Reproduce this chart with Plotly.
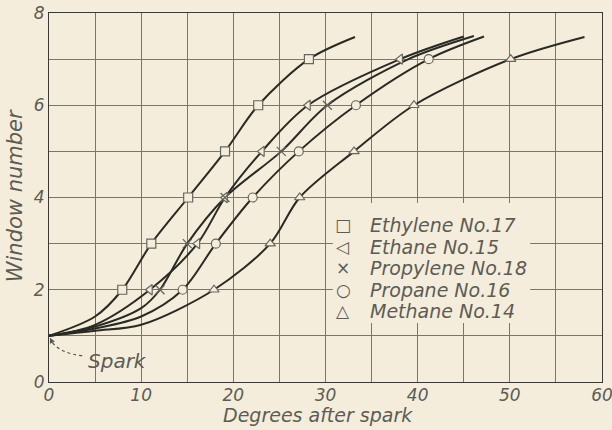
import plotly.graph_objects as go

# ---- data ----
names = ["Ethylene No.17", "Ethane No.15", "Propylene No.18", "Propane No.16", "Methane No.14"]
legend_glyphs = ["\u25a1", "\u25c1", "\u00d7", "\u25cb", "\u25b3"]
symbols = ["square", "triangle-left", "x-thin-open", "circle", "triangle-up"]

# curve points (m = 1 where a plotted observation marker sits)
ethylene_x = [0, 5, 7.95, 11.1, 15.1, 19.1, 22.7, 28.2, 33.2]
ethylene_y = [1, 1.42, 2, 3, 4, 5, 6, 7, 7.48]
ethylene_m = [0, 0, 1, 1, 1, 1, 1, 1, 0]

ethane_x = [0, 5, 10.95, 16.1, 19.1, 23.1, 28.1, 38.1, 45.0]
ethane_y = [1, 1.24, 2, 3, 4, 5, 6, 7, 7.49]
ethane_m = [0, 0, 1, 1, 1, 1, 1, 1, 0]

propylene_x = [0, 5, 10, 12.04, 15.0, 19.1, 25.2, 30.2, 39.0, 46.1]
propylene_y = [1, 1.2, 1.6, 2, 3, 4, 5, 6, 7, 7.5]
propylene_m = [0, 0, 0, 1, 1, 1, 1, 1, 0, 0]

propane_x = [0, 5, 10, 14.5, 18.1, 22.1, 27.1, 33.3, 41.2, 47.2]
propane_y = [1, 1.16, 1.42, 2, 3, 4, 5, 6, 7, 7.49]
propane_m = [0, 0, 0, 1, 1, 1, 1, 1, 1, 0]

methane_x = [0, 5, 10, 17.9, 24.0, 27.2, 33.1, 39.6, 50.1, 58.1]
methane_y = [1, 1.11, 1.24, 2, 3, 4, 5, 6, 7, 7.48]
methane_m = [0, 0, 0, 1, 1, 1, 1, 1, 1, 0]

series = [
    (ethylene_x, ethylene_y, ethylene_m),
    (ethane_x, ethane_y, ethane_m),
    (propylene_x, propylene_y, propylene_m),
    (propane_x, propane_y, propane_m),
    (methane_x, methane_y, methane_m),
]

x_ticks = [0, 10, 20, 30, 40, 50, 60]
y_ticks = [0, 2, 4, 6, 8]

# legend placement (data coordinates of the hand-drawn key)
legend_rows_y = [3.41, 2.93, 2.47, 2.0, 1.54]
legend_symbol_x = 31.9
legend_text_x = 34.6
legend_box = dict(x0=30.8, x1=52.2, y0=1.28, y1=3.88)

# ---- style ----
BG = "#f4eddb"
INK = "#2a2a24"
GRID = "#77776c"
TXT = "#5c5c55"
MK = "#66665e"
FAM = "DejaVu Sans"
FONT = dict(family=FAM, size=17, color=TXT, style="italic")

fig = go.Figure()

for (xs, ys, ms) in series:
    fig.add_trace(go.Scatter(
        x=xs, y=ys, mode="lines",
        line=dict(color=INK, width=2, shape="spline", smoothing=0.9),
        showlegend=False, hoverinfo="skip"))

for name, sym, (xs, ys, ms) in zip(names, symbols, series):
    mx = [x for x, m in zip(xs, ms) if m]
    my = [y for y, m in zip(ys, ms) if m]
    if sym.endswith("open"):
        marker = dict(symbol=sym, size=9, color=MK, line=dict(width=1.3, color=MK))
    else:
        marker = dict(symbol=sym, size=9, color=BG, line=dict(width=1.2, color=MK))
    fig.add_trace(go.Scatter(x=mx, y=my, mode="markers", name=name, marker=marker,
                             showlegend=False))

# hand-lettered key: background patch over the grid, glyphs and labels
fig.add_shape(type="rect", xref="x", yref="y", layer="between",
              fillcolor=BG, line=dict(width=0), **legend_box)
for glyph, name, yy in zip(legend_glyphs, names, legend_rows_y):
    fig.add_annotation(x=legend_symbol_x, y=yy, xref="x", yref="y", text=glyph,
                       showarrow=False, font=dict(family=FAM, size=17, color=TXT))
    fig.add_annotation(x=legend_text_x, y=yy, xref="x", yref="y", text=name,
                       xanchor="left", showarrow=False, font=dict(FONT, size=19))

# Spark annotation with dotted curved leader
fig.add_shape(type="path", xref="x", yref="y",
              path="M 3.6,0.57 Q 1.3,0.62 0.35,0.86",
              line=dict(color="#55554f", width=1.2, dash="dot"))
fig.add_annotation(x=0.1, y=0.96, ax=0.45, ay=0.82, xref="x", yref="y", axref="x", ayref="y",
                   text="", showarrow=True, arrowhead=2, arrowsize=1, arrowwidth=1.1,
                   arrowcolor="#55554f")
fig.add_annotation(x=7.4, y=0.46, xref="x", yref="y", text="Spark", showarrow=False,
                   font=dict(FONT, size=20))

# axis titles
fig.add_annotation(x=-0.0615, y=0.506, xref="paper", yref="paper", text="Window number",
                   textangle=-90, xanchor="center", yanchor="middle", showarrow=False,
                   font=dict(FONT, size=21))
fig.add_annotation(x=0.486, y=-0.0894, xref="paper", yref="paper", text="Degrees after spark",
                   xanchor="center", yanchor="middle", showarrow=False,
                   font=dict(FONT, size=19))

axis_common = dict(showline=True, linecolor="#3a3a34", linewidth=1.2, mirror=True,
                   showgrid=True, gridcolor=GRID, gridwidth=1, zeroline=False,
                   ticks="", tickfont=FONT, automargin=False)

fig.update_xaxes(range=[0, 60], tickvals=x_ticks, ticktext=[str(v) for v in x_ticks],
                 minor=dict(dtick=5, showgrid=True, gridcolor=GRID, gridwidth=1),
                 ticklabeloverflow="allow", ticklabelstandoff=-3,
                 **axis_common)
fig.update_yaxes(range=[0, 8], tickvals=y_ticks, ticktext=[str(v) for v in y_ticks],
                 minor=dict(dtick=1, showgrid=True, gridcolor=GRID, gridwidth=1),
                 ticklabeloverflow="allow",
                 **axis_common)

fig.update_layout(
    width=612, height=430,
    margin=dict(l=49, r=10, t=13, b=48),
    paper_bgcolor=BG, plot_bgcolor=BG,
    font=FONT,
    showlegend=False,
)

fig.write_html("out.html")
